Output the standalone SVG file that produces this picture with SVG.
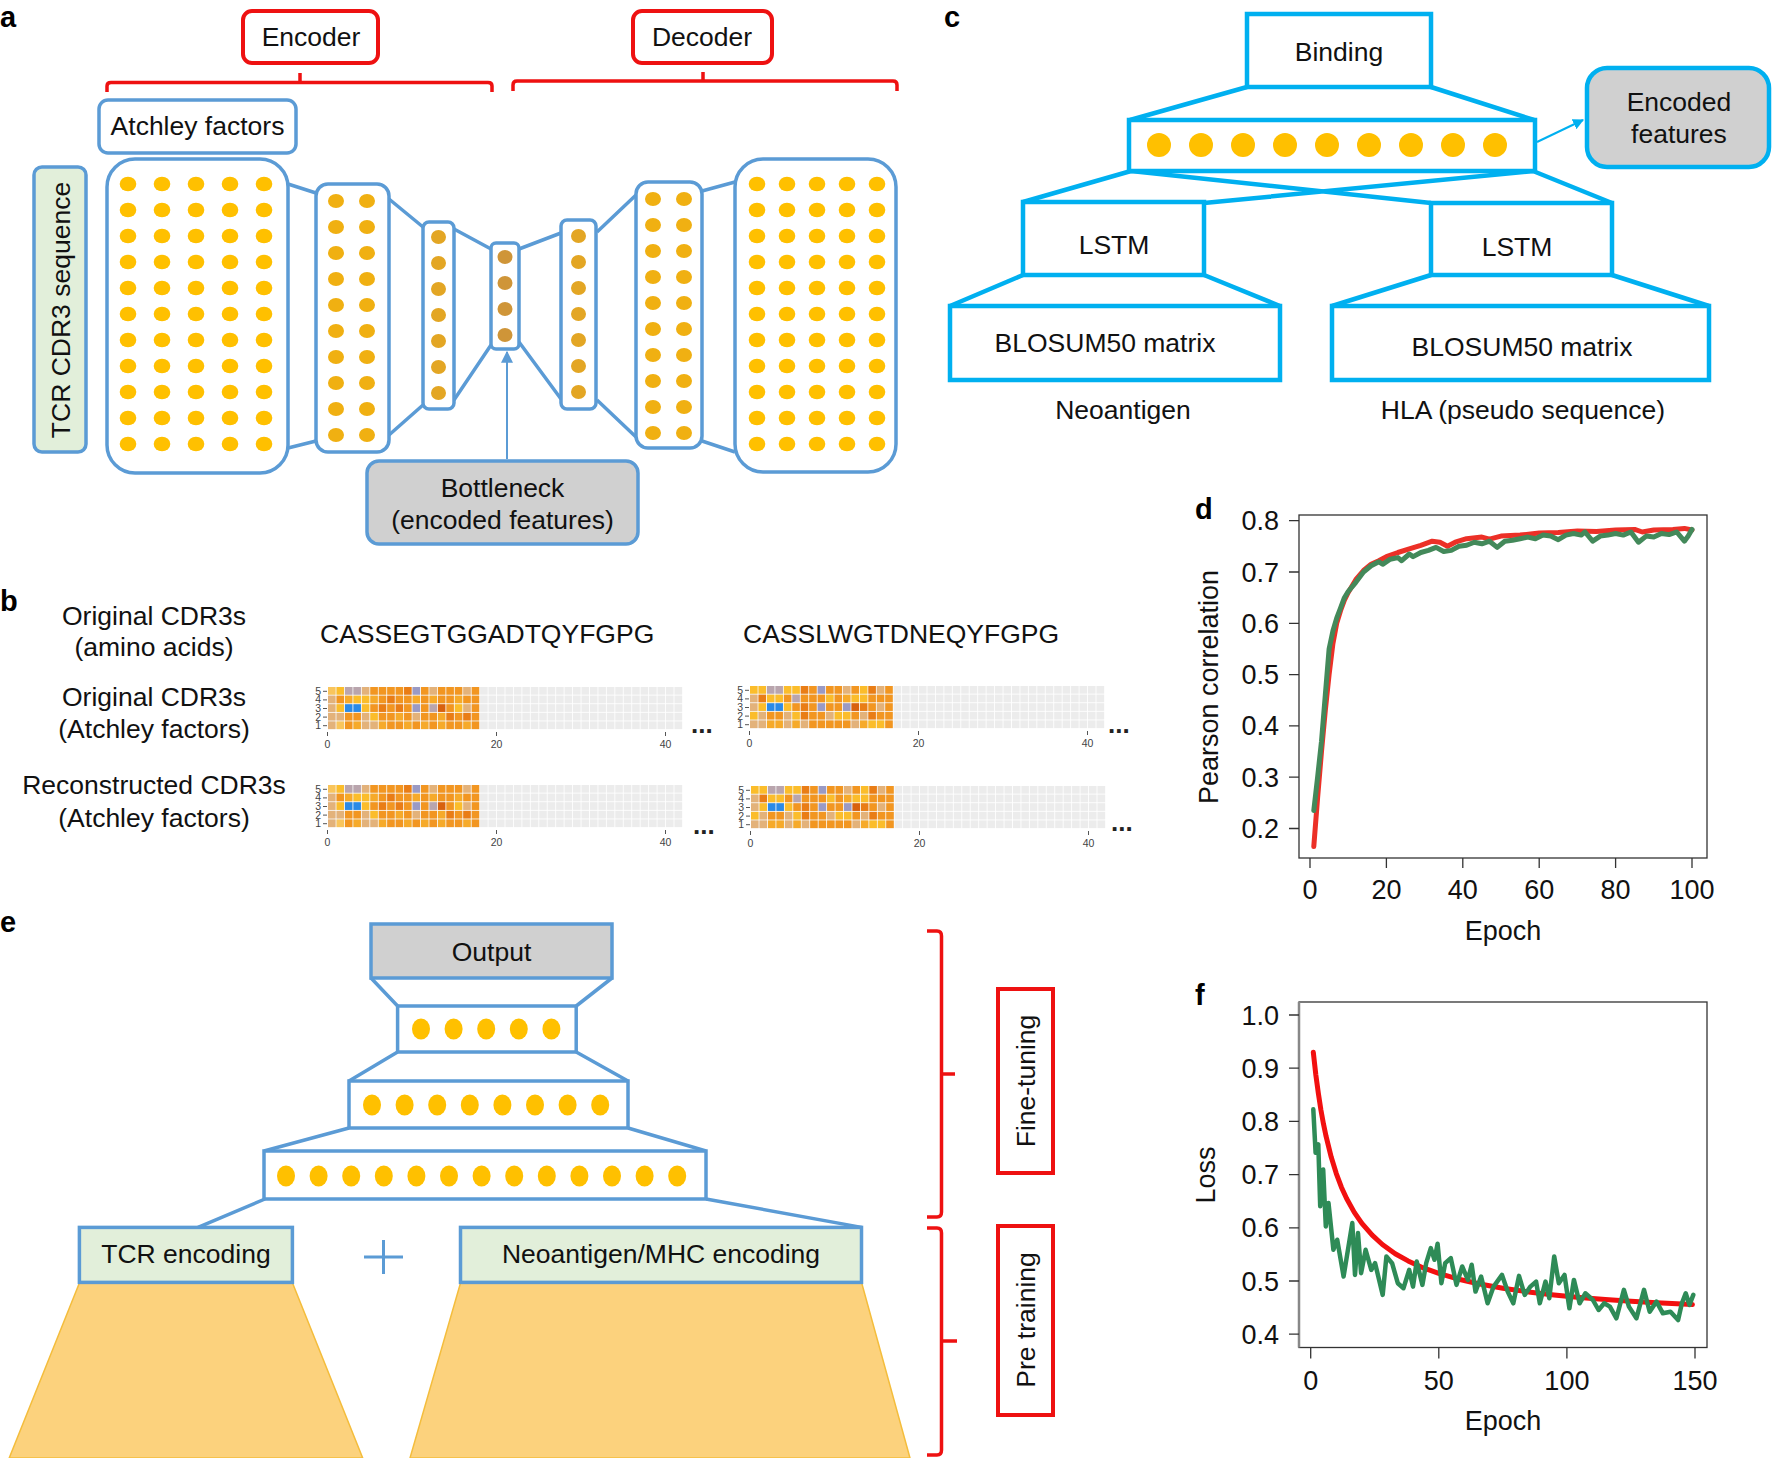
<svg xmlns="http://www.w3.org/2000/svg" xmlns:xlink="http://www.w3.org/1999/xlink" width="1773" height="1458" viewBox="0 0 1773 1458">
<style>
.t{font-family:"Liberation Sans",Arial,Helvetica,sans-serif;font-size:26.5px;fill:#111}
.m{text-anchor:middle}
.e{text-anchor:end}
.pl{font-family:"Liberation Sans",Arial,sans-serif;font-weight:bold;font-size:29px;fill:#000}
.ba{fill:#fff;stroke:#5b9bd5;stroke-width:3.5}
.la{fill:none;stroke:#5b9bd5;stroke-width:3.5}
.bc{fill:#fff;stroke:#00b0f0;stroke-width:4.5}
.lc{fill:none;stroke:#00b0f0;stroke-width:4.5}
.rb{fill:#fff;stroke:#ee1111;stroke-width:4}
.rl{fill:none;stroke:#ee1111;stroke-width:3.5}
.gray{fill:#d0d0d0}
.grn{fill:#e2efda}
.d1{fill:#ffc000}.d2{fill:#f0b012}.d3{fill:#e3a624}.d4{fill:#cf9538}
.hL{fill:#f9c55c}.hY{fill:#fbbd2b}.hK{fill:#f6aa2a}.hO{fill:#f29621}.hD{fill:#e97d16}.hR{fill:#d8610e}.hT{fill:#e3b27a}.hV{fill:#b9a5ad}.hP{fill:#9a9ac4}.hB{fill:#2b8ae6}
.hs{font-family:"Liberation Sans",Arial,sans-serif;font-size:10.5px;fill:#444}
.tk{stroke:#555;stroke-width:1}
.ax{stroke:#333;stroke-width:1.3;fill:none}
.tl{font-family:"Liberation Sans",Arial,sans-serif;font-size:27px;fill:#111}
.dots{font-family:"Liberation Sans",Arial,sans-serif;font-size:26px;font-weight:bold;fill:#222}
</style>
<defs>
<marker id="arA" viewBox="0 0 10 10" refX="9" refY="5" markerWidth="12" markerHeight="12" markerUnits="userSpaceOnUse" orient="auto"><path d="M0,0 L10,5 L0,10 z" fill="#5b9bd5"/></marker>
<marker id="arC" viewBox="0 0 10 10" refX="9" refY="5" markerWidth="11" markerHeight="11" markerUnits="userSpaceOnUse" orient="auto"><path d="M0,0 L10,5 L0,10 z" fill="#00b0f0"/></marker>
<pattern id="cell" width="1" height="1" patternUnits="userSpaceOnUse"><rect width=".9" height=".9" fill="#ececec"/></pattern>
<g id="r1"><ellipse cx="128" cy="0" rx="8.3" ry="7.3"/><ellipse cx="162" cy="0" rx="8.3" ry="7.3"/><ellipse cx="196" cy="0" rx="8.3" ry="7.3"/><ellipse cx="230" cy="0" rx="8.3" ry="7.3"/><ellipse cx="264" cy="0" rx="8.3" ry="7.3"/></g>
<g id="r7"><ellipse cx="757" cy="0" rx="8.3" ry="7.3"/><ellipse cx="787" cy="0" rx="8.3" ry="7.3"/><ellipse cx="817" cy="0" rx="8.3" ry="7.3"/><ellipse cx="847" cy="0" rx="8.3" ry="7.3"/><ellipse cx="877" cy="0" rx="8.3" ry="7.3"/></g>
<g id="r2"><ellipse cx="0" cy="0" rx="8" ry="7"/><ellipse cx="31" cy="0" rx="8" ry="7"/></g>
<ellipse id="s1" cx="0" cy="0" rx="7.5" ry="7"/>
<g id="axes">
<text class="hs e" x="-7" y="7.8">5</text><text class="hs e" x="-7" y="16.4">4</text><text class="hs e" x="-7" y="25">3</text><text class="hs e" x="-7" y="33.6">2</text><text class="hs e" x="-7" y="42.2">1</text>
<path class="tk" d="M-5,4.3H-1M-5,12.9H-1M-5,21.5H-1M-5,30.1H-1M-5,38.7H-1M-0.5,45V49M168.5,45V49M337.5,45V49"/>
<text class="hs m" x="-0.5" y="61">0</text><text class="hs m" x="168.5" y="61">20</text><text class="hs m" x="337.5" y="61">40</text>
</g>
<g id="hmA">
<g transform="scale(8.45,8.6)">
<rect width="42" height="5" fill="url(#cell)"/>
<g transform="translate(0,0)"><rect x="0" width=".9" height=".9" class="hL"/><rect x="1" width=".9" height=".9" class="hY"/><rect x="2" width=".9" height=".9" class="hV"/><rect x="3" width=".9" height=".9" class="hV"/><rect x="4" width=".9" height=".9" class="hT"/><rect x="5" width=".9" height=".9" class="hO"/><rect x="6" width=".9" height=".9" class="hO"/><rect x="7" width=".9" height=".9" class="hO"/><rect x="8" width=".9" height=".9" class="hO"/><rect x="9" width=".9" height=".9" class="hD"/><rect x="10" width=".9" height=".9" class="hP"/><rect x="11" width=".9" height=".9" class="hO"/><rect x="12" width=".9" height=".9" class="hT"/><rect x="13" width=".9" height=".9" class="hO"/><rect x="14" width=".9" height=".9" class="hO"/><rect x="15" width=".9" height=".9" class="hO"/><rect x="16" width=".9" height=".9" class="hT"/><rect x="17" width=".9" height=".9" class="hO"/></g>
<g transform="translate(0,1)"><rect x="0" width=".9" height=".9" class="hT"/><rect x="1" width=".9" height=".9" class="hO"/><rect x="2" width=".9" height=".9" class="hK"/><rect x="3" width=".9" height=".9" class="hY"/><rect x="4" width=".9" height=".9" class="hY"/><rect x="5" width=".9" height=".9" class="hK"/><rect x="6" width=".9" height=".9" class="hO"/><rect x="7" width=".9" height=".9" class="hD"/><rect x="8" width=".9" height=".9" class="hO"/><rect x="9" width=".9" height=".9" class="hO"/><rect x="10" width=".9" height=".9" class="hK"/><rect x="11" width=".9" height=".9" class="hO"/><rect x="12" width=".9" height=".9" class="hK"/><rect x="13" width=".9" height=".9" class="hO"/><rect x="14" width=".9" height=".9" class="hO"/><rect x="15" width=".9" height=".9" class="hK"/><rect x="16" width=".9" height=".9" class="hO"/><rect x="17" width=".9" height=".9" class="hO"/></g>
<g transform="translate(0,2)"><rect x="0" width=".9" height=".9" class="hT"/><rect x="1" width=".9" height=".9" class="hY"/><rect x="2" width=".9" height=".9" class="hB"/><rect x="3" width=".9" height=".9" class="hB"/><rect x="4" width=".9" height=".9" class="hY"/><rect x="5" width=".9" height=".9" class="hO"/><rect x="6" width=".9" height=".9" class="hD"/><rect x="7" width=".9" height=".9" class="hO"/><rect x="8" width=".9" height=".9" class="hD"/><rect x="9" width=".9" height=".9" class="hO"/><rect x="10" width=".9" height=".9" class="hP"/><rect x="11" width=".9" height=".9" class="hO"/><rect x="12" width=".9" height=".9" class="hV"/><rect x="13" width=".9" height=".9" class="hR"/><rect x="14" width=".9" height=".9" class="hO"/><rect x="15" width=".9" height=".9" class="hY"/><rect x="16" width=".9" height=".9" class="hT"/><rect x="17" width=".9" height=".9" class="hO"/></g>
<g transform="translate(0,3)"><rect x="0" width=".9" height=".9" class="hT"/><rect x="1" width=".9" height=".9" class="hT"/><rect x="2" width=".9" height=".9" class="hO"/><rect x="3" width=".9" height=".9" class="hO"/><rect x="4" width=".9" height=".9" class="hT"/><rect x="5" width=".9" height=".9" class="hY"/><rect x="6" width=".9" height=".9" class="hO"/><rect x="7" width=".9" height=".9" class="hO"/><rect x="8" width=".9" height=".9" class="hK"/><rect x="9" width=".9" height=".9" class="hO"/><rect x="10" width=".9" height=".9" class="hT"/><rect x="11" width=".9" height=".9" class="hO"/><rect x="12" width=".9" height=".9" class="hO"/><rect x="13" width=".9" height=".9" class="hK"/><rect x="14" width=".9" height=".9" class="hD"/><rect x="15" width=".9" height=".9" class="hO"/><rect x="16" width=".9" height=".9" class="hD"/><rect x="17" width=".9" height=".9" class="hO"/></g>
<g transform="translate(0,4)"><rect x="0" width=".9" height=".9" class="hT"/><rect x="1" width=".9" height=".9" class="hL"/><rect x="2" width=".9" height=".9" class="hO"/><rect x="3" width=".9" height=".9" class="hK"/><rect x="4" width=".9" height=".9" class="hT"/><rect x="5" width=".9" height=".9" class="hT"/><rect x="6" width=".9" height=".9" class="hK"/><rect x="7" width=".9" height=".9" class="hO"/><rect x="8" width=".9" height=".9" class="hO"/><rect x="9" width=".9" height=".9" class="hK"/><rect x="10" width=".9" height=".9" class="hO"/><rect x="11" width=".9" height=".9" class="hK"/><rect x="12" width=".9" height=".9" class="hO"/><rect x="13" width=".9" height=".9" class="hK"/><rect x="14" width=".9" height=".9" class="hO"/><rect x="15" width=".9" height=".9" class="hO"/><rect x="16" width=".9" height=".9" class="hK"/><rect x="17" width=".9" height=".9" class="hO"/></g>
</g>
<use href="#axes"/>
</g>
<g id="hmB">
<g transform="scale(8.45,8.6)">
<rect width="42" height="5" fill="url(#cell)"/>
<g transform="translate(0,0)"><rect x="0" width=".9" height=".9" class="hY"/><rect x="1" width=".9" height=".9" class="hY"/><rect x="2" width=".9" height=".9" class="hV"/><rect x="3" width=".9" height=".9" class="hV"/><rect x="4" width=".9" height=".9" class="hY"/><rect x="5" width=".9" height=".9" class="hY"/><rect x="6" width=".9" height=".9" class="hD"/><rect x="7" width=".9" height=".9" class="hO"/><rect x="8" width=".9" height=".9" class="hP"/><rect x="9" width=".9" height=".9" class="hO"/><rect x="10" width=".9" height=".9" class="hO"/><rect x="11" width=".9" height=".9" class="hT"/><rect x="12" width=".9" height=".9" class="hO"/><rect x="13" width=".9" height=".9" class="hY"/><rect x="14" width=".9" height=".9" class="hD"/><rect x="15" width=".9" height=".9" class="hT"/><rect x="16" width=".9" height=".9" class="hO"/></g>
<g transform="translate(0,1)"><rect x="0" width=".9" height=".9" class="hT"/><rect x="1" width=".9" height=".9" class="hD"/><rect x="2" width=".9" height=".9" class="hY"/><rect x="3" width=".9" height=".9" class="hY"/><rect x="4" width=".9" height=".9" class="hO"/><rect x="5" width=".9" height=".9" class="hV"/><rect x="6" width=".9" height=".9" class="hO"/><rect x="7" width=".9" height=".9" class="hO"/><rect x="8" width=".9" height=".9" class="hO"/><rect x="9" width=".9" height=".9" class="hY"/><rect x="10" width=".9" height=".9" class="hO"/><rect x="11" width=".9" height=".9" class="hK"/><rect x="12" width=".9" height=".9" class="hY"/><rect x="13" width=".9" height=".9" class="hY"/><rect x="14" width=".9" height=".9" class="hO"/><rect x="15" width=".9" height=".9" class="hO"/><rect x="16" width=".9" height=".9" class="hO"/></g>
<g transform="translate(0,2)"><rect x="0" width=".9" height=".9" class="hT"/><rect x="1" width=".9" height=".9" class="hY"/><rect x="2" width=".9" height=".9" class="hB"/><rect x="3" width=".9" height=".9" class="hB"/><rect x="4" width=".9" height=".9" class="hY"/><rect x="5" width=".9" height=".9" class="hO"/><rect x="6" width=".9" height=".9" class="hD"/><rect x="7" width=".9" height=".9" class="hO"/><rect x="8" width=".9" height=".9" class="hP"/><rect x="9" width=".9" height=".9" class="hO"/><rect x="10" width=".9" height=".9" class="hO"/><rect x="11" width=".9" height=".9" class="hP"/><rect x="12" width=".9" height=".9" class="hR"/><rect x="13" width=".9" height=".9" class="hD"/><rect x="14" width=".9" height=".9" class="hO"/><rect x="15" width=".9" height=".9" class="hT"/><rect x="16" width=".9" height=".9" class="hO"/></g>
<g transform="translate(0,3)"><rect x="0" width=".9" height=".9" class="hY"/><rect x="1" width=".9" height=".9" class="hT"/><rect x="2" width=".9" height=".9" class="hO"/><rect x="3" width=".9" height=".9" class="hO"/><rect x="4" width=".9" height=".9" class="hT"/><rect x="5" width=".9" height=".9" class="hY"/><rect x="6" width=".9" height=".9" class="hD"/><rect x="7" width=".9" height=".9" class="hO"/><rect x="8" width=".9" height=".9" class="hO"/><rect x="9" width=".9" height=".9" class="hT"/><rect x="10" width=".9" height=".9" class="hY"/><rect x="11" width=".9" height=".9" class="hY"/><rect x="12" width=".9" height=".9" class="hO"/><rect x="13" width=".9" height=".9" class="hT"/><rect x="14" width=".9" height=".9" class="hD"/><rect x="15" width=".9" height=".9" class="hO"/><rect x="16" width=".9" height=".9" class="hO"/></g>
<g transform="translate(0,4)"><rect x="0" width=".9" height=".9" class="hT"/><rect x="1" width=".9" height=".9" class="hT"/><rect x="2" width=".9" height=".9" class="hK"/><rect x="3" width=".9" height=".9" class="hK"/><rect x="4" width=".9" height=".9" class="hT"/><rect x="5" width=".9" height=".9" class="hK"/><rect x="6" width=".9" height=".9" class="hT"/><rect x="7" width=".9" height=".9" class="hO"/><rect x="8" width=".9" height=".9" class="hO"/><rect x="9" width=".9" height=".9" class="hO"/><rect x="10" width=".9" height=".9" class="hO"/><rect x="11" width=".9" height=".9" class="hO"/><rect x="12" width=".9" height=".9" class="hT"/><rect x="13" width=".9" height=".9" class="hK"/><rect x="14" width=".9" height=".9" class="hY"/><rect x="15" width=".9" height=".9" class="hY"/><rect x="16" width=".9" height=".9" class="hO"/></g>
</g>
<use href="#axes"/>
</g>
</defs>
<rect width="1773" height="1458" fill="#fff"/>

<!-- Panel labels -->
<g id="panel-labels">
<text class="pl" x="0" y="27">a</text>
<text class="pl" x="0" y="611">b</text>
<text class="pl" x="944" y="27">c</text>
<text class="pl" x="1195" y="519">d</text>
<text class="pl" x="0" y="932">e</text>
<text class="pl" x="1195" y="1005">f</text>
</g>

<!-- ===== Panel a ===== -->
<g id="a-connectors">
<path class="rl" d="M107,92 L107,86 Q107,82.5 111,82.5 L488,82.5 Q492,82.5 492,86 L492,92 M300,82.5 L300,73"/>
<path class="rl" d="M513,91 L513,85 Q513,81 517,81 L893,81 Q897,81 897,85 L897,91 M703,81 L703,72"/>
<path class="la" d="M288,184 L316,193 M288,448 L316,441 M389,199 L423,227 M389,435 L423,405 M454,229 L491,249 M454,400 L491,345 M519,249 L561,233 M519,342 L561,399 M597,232 L636,195 M597,400 L636,437 M702,191 L735,182 M702,441 L735,452"/>
<line x1="507" y1="459" x2="507" y2="352" stroke="#5b9bd5" stroke-width="2" marker-end="url(#arA)"/>
</g>
<g id="a-encoder"><rect class="rb" x="243" y="11" width="135" height="52" rx="9"/><text class="t m" x="311" y="46">Encoder</text></g>
<g id="a-decoder"><rect class="rb" x="633" y="11" width="139" height="52" rx="9"/><text class="t m" x="702" y="46">Decoder</text></g>
<g id="a-atchley"><rect class="ba" x="99" y="100" width="197" height="53" rx="9"/><text class="t m" x="197.5" y="135">Atchley factors</text></g>
<g id="a-tcr"><rect class="la grn" x="34" y="167" width="52" height="285" rx="8"/><text class="t m" transform="translate(70,310) rotate(-90)" x="0" y="0">TCR CDR3 sequence</text></g>
<g id="a-layer1"><rect class="ba" x="107" y="159" width="181" height="314" rx="28"/>
<g class="d1"><use href="#r1" y="184"/><use href="#r1" y="210"/><use href="#r1" y="236"/><use href="#r1" y="262"/><use href="#r1" y="288"/><use href="#r1" y="314"/><use href="#r1" y="340"/><use href="#r1" y="366"/><use href="#r1" y="392"/><use href="#r1" y="418"/><use href="#r1" y="444"/></g></g>
<g id="a-layer2"><rect class="ba" x="316" y="184" width="73" height="268" rx="12"/>
<g class="d2"><use href="#r2" x="336" y="201"/><use href="#r2" x="336" y="227"/><use href="#r2" x="336" y="253"/><use href="#r2" x="336" y="279"/><use href="#r2" x="336" y="305"/><use href="#r2" x="336" y="331"/><use href="#r2" x="336" y="357"/><use href="#r2" x="336" y="383"/><use href="#r2" x="336" y="409"/><use href="#r2" x="336" y="435"/></g></g>
<g id="a-layer3"><rect class="ba" x="423" y="222" width="31" height="187" rx="6"/>
<g class="d3"><use href="#s1" x="438.5" y="237"/><use href="#s1" x="438.5" y="263"/><use href="#s1" x="438.5" y="289"/><use href="#s1" x="438.5" y="315"/><use href="#s1" x="438.5" y="341"/><use href="#s1" x="438.5" y="367"/><use href="#s1" x="438.5" y="393"/></g></g>
<g id="a-bottleneck-layer"><rect class="ba" x="491" y="243" width="28" height="106" rx="5"/>
<g class="d4"><use href="#s1" x="505" y="257"/><use href="#s1" x="505" y="283"/><use href="#s1" x="505" y="309"/><use href="#s1" x="505" y="335"/></g></g>
<g id="a-layer5"><rect class="ba" x="561" y="220" width="35" height="189" rx="6"/>
<g class="d3"><use href="#s1" x="578.5" y="236"/><use href="#s1" x="578.5" y="262"/><use href="#s1" x="578.5" y="288"/><use href="#s1" x="578.5" y="314"/><use href="#s1" x="578.5" y="340"/><use href="#s1" x="578.5" y="366"/><use href="#s1" x="578.5" y="392"/></g></g>
<g id="a-layer6"><rect class="ba" x="636" y="182" width="66" height="266" rx="12"/>
<g class="d2"><use href="#r2" x="653" y="199"/><use href="#r2" x="653" y="225"/><use href="#r2" x="653" y="251"/><use href="#r2" x="653" y="277"/><use href="#r2" x="653" y="303"/><use href="#r2" x="653" y="329"/><use href="#r2" x="653" y="355"/><use href="#r2" x="653" y="381"/><use href="#r2" x="653" y="407"/><use href="#r2" x="653" y="433"/></g></g>
<g id="a-layer7"><rect class="ba" x="735" y="159" width="161" height="313" rx="28"/>
<g class="d1"><use href="#r7" y="184"/><use href="#r7" y="210"/><use href="#r7" y="236"/><use href="#r7" y="262"/><use href="#r7" y="288"/><use href="#r7" y="314"/><use href="#r7" y="340"/><use href="#r7" y="366"/><use href="#r7" y="392"/><use href="#r7" y="418"/><use href="#r7" y="444"/></g></g>
<g id="a-bottleneck-label"><rect class="la gray" x="367" y="461" width="271" height="83" rx="12"/><text class="t m" x="502.5" y="497">Bottleneck</text><text class="t m" x="502.5" y="529">(encoded features)</text></g>

<!-- ===== Panel b ===== -->
<g id="b-labels">
<text class="t m" x="154" y="625">Original CDR3s</text>
<text class="t m" x="154" y="656">(amino acids)</text>
<text class="t m" x="154" y="706">Original CDR3s</text>
<text class="t m" x="154" y="738">(Atchley factors)</text>
<text class="t m" x="154" y="794">Reconstructed CDR3s</text>
<text class="t m" x="154" y="827">(Atchley factors)</text>
<text class="t" x="320" y="643">CASSEGTGGADTQYFGPG</text>
<text class="t" x="743" y="643">CASSLWGTDNEQYFGPG</text>
</g>
<g id="b-heatmaps">
<use href="#hmA" transform="translate(328,687)"/>
<use href="#hmB" transform="translate(750,686)"/>
<use href="#hmA" transform="translate(328,785)"/>
<use href="#hmB" transform="translate(751,786)"/>
<text class="dots" x="691" y="733">...</text>
<text class="dots" x="1108" y="733">...</text>
<text class="dots" x="693" y="834">...</text>
<text class="dots" x="1111" y="831">...</text>
</g>

<!-- ===== Panel c ===== -->
<g id="c-connectors">
<path class="lc" d="M1247,87 L1130,120 M1431,87 L1534,120 M1131,171 L1023,202 M1131,171 L1431,203 M1533,171 L1204,203 M1533,171 L1612,203 M1023,275 L950,306 M1204,275 L1280,306 M1431,275 L1332,306 M1612,275 L1709,306"/>
<line x1="1537" y1="142" x2="1583" y2="120" stroke="#00b0f0" stroke-width="2" marker-end="url(#arC)"/>
</g>
<g id="c-binding"><rect class="bc" x="1247" y="14" width="184" height="73"/><text class="t m" x="1339" y="61">Binding</text></g>
<g id="c-dense"><rect class="bc" x="1129" y="120" width="406" height="51"/>
<g class="d1"><circle cx="1159" cy="145" r="12"/><circle cx="1201" cy="145" r="12"/><circle cx="1243" cy="145" r="12"/><circle cx="1285" cy="145" r="12"/><circle cx="1327" cy="145" r="12"/><circle cx="1369" cy="145" r="12"/><circle cx="1411" cy="145" r="12"/><circle cx="1453" cy="145" r="12"/><circle cx="1495" cy="145" r="12"/></g></g>
<g id="c-encoded"><rect x="1587" y="68" width="182" height="99" rx="20" fill="#d0d0d0" stroke="#00b0f0" stroke-width="4.5"/><text class="t m" x="1679" y="111">Encoded</text><text class="t m" x="1679" y="143">features</text></g>
<g id="c-lstm-left"><rect class="bc" x="1023" y="202" width="181" height="73"/><text class="t m" x="1114" y="254">LSTM</text></g>
<g id="c-lstm-right"><rect class="bc" x="1431" y="203" width="181" height="72"/><text class="t m" x="1517" y="256">LSTM</text></g>
<g id="c-blosum-left"><rect class="bc" x="950" y="306" width="330" height="74"/><text class="t m" x="1105" y="352">BLOSUM50 matrix</text></g>
<g id="c-blosum-right"><rect class="bc" x="1332" y="306" width="377" height="74"/><text class="t m" x="1522" y="356">BLOSUM50 matrix</text></g>
<g id="c-captions"><text class="t m" x="1123" y="419">Neoantigen</text><text class="t m" x="1523" y="419">HLA (pseudo sequence)</text></g>

<!-- ===== Panel d ===== -->
<g id="d-plot">
<rect class="ax" x="1299" y="515" width="408" height="343"/>
<path class="ax" d="M1289,520.7H1299M1289,572H1299M1289,623.3H1299M1289,674.6H1299M1289,725.9H1299M1289,777.2H1299M1289,828.5H1299M1310,858V868M1386.4,858V868M1462.8,858V868M1539.2,858V868M1615.6,858V868M1692,858V868"/>
<g class="tl e"><text x="1279" y="530">0.8</text><text x="1279" y="581.5">0.7</text><text x="1279" y="632.8">0.6</text><text x="1279" y="684">0.5</text><text x="1279" y="735.4">0.4</text><text x="1279" y="786.7">0.3</text><text x="1279" y="838">0.2</text></g>
<g class="tl m"><text x="1310" y="899">0</text><text x="1386.4" y="899">20</text><text x="1462.8" y="899">40</text><text x="1539.2" y="899">60</text><text x="1615.6" y="899">80</text><text x="1692" y="899">100</text></g>
<text class="tl m" x="1503" y="940">Epoch</text>
<text class="tl m" transform="translate(1218,687) rotate(-90)">Pearson correlation</text>
<polyline fill="none" stroke="#ec3027" stroke-width="5" stroke-linejoin="round" stroke-linecap="round" points="1313.8,846.5 1317.6,797.7 1321.5,751.6 1325.3,710.5 1329.1,674.6 1332.9,643.8 1336.7,623.3 1340.6,610.5 1344.4,600.2 1348.2,592.5 1355.8,579.7 1363.5,570.5 1371.1,564.3 1378.8,560.7 1386.4,556.6 1397.9,552.5 1409.3,548.9 1420.8,545.3 1432.2,541.2 1439.9,542.2 1447.5,546.3 1455.2,542.2 1466.6,538.7 1481.9,537.1 1489.5,539.2 1501,536.1 1520.1,535.1 1539.2,533 1558.3,532.5 1577.4,531 1596.5,531.5 1615.6,530 1634.7,529.4 1642.3,532 1653.8,530 1672.9,529.4 1684.4,528.4 1692,530"/>
<polyline fill="none" stroke="#43895a" stroke-width="5" stroke-linejoin="round" stroke-linecap="round" points="1313.8,810.6 1317.6,777.2 1321.5,741.3 1325.3,695.1 1329.1,649 1332.9,631 1336.7,618.2 1340.6,607.9 1344.4,597.7 1348.2,591.5 1355.8,582.3 1363.5,572 1371.1,565.8 1378.8,561.7 1382.6,564.3 1390.2,559.2 1397.9,557.6 1401.7,560.7 1409.3,554 1413.1,556.6 1420.8,552.5 1428.4,550.4 1436,547.4 1443.7,551.5 1451.3,550.4 1459,546.3 1466.6,545.3 1474.3,542.2 1481.9,543.8 1489.5,541.2 1497.2,547.4 1504.8,541.2 1512.5,540.2 1520.1,538.7 1527.7,537.1 1535.4,538.7 1543,535.1 1550.7,536.1 1558.3,539.7 1565.9,535.1 1573.6,533.5 1581.2,535.1 1585,532 1592.7,541.2 1600.3,536.1 1607.9,535.1 1615.6,533.5 1623.2,535.1 1630.9,532 1638.5,542.2 1646.2,536.1 1653.8,537.1 1661.4,533.5 1669.1,534.6 1676.7,532 1684.4,541.2 1688.2,536.1 1692,529.4"/>
</g>

<!-- ===== Panel e ===== -->
<g id="e-pretrain-shapes">
<polygon points="79.4,1283 292.5,1283 362.7,1458 9.2,1458" fill="#fcd27d" stroke="#f4bd3c" stroke-width="1.5"/>
<polygon points="460.5,1283 861.7,1283 910,1458 410,1458" fill="#fcd27d" stroke="#f4bd3c" stroke-width="1.5"/>
</g>
<g id="e-connectors">
<path class="la" stroke-width="3" d="M371,978 L397.6,1006 M612,978 L576.2,1006 M397.6,1052 L349,1081 M576.2,1052 L628,1081 M349,1128 L264,1151 M628,1128 L706,1151 M265,1199 L198,1227.4 M706,1199 L861.7,1227.4"/>
<path class="rl" d="M927,931 L937,931 Q941.5,931 941.5,936 L941.5,1212 Q941.5,1217 937,1217 L927,1217 M941.5,1074 L955,1074"/>
<path class="rl" d="M927,1228 L937,1228 Q941.5,1228 941.5,1233 L941.5,1450 Q941.5,1455 937,1455 L927,1455 M941.5,1341 L957,1341"/>
</g>
<g id="e-output"><rect class="la gray" stroke-width="3" x="371" y="924" width="241" height="54"/><text class="t m" x="491.5" y="961">Output</text></g>
<g id="e-layer1"><rect class="ba" stroke-width="3" x="397.6" y="1006" width="178.6" height="46"/>
<g class="d1"><ellipse cx="421" cy="1029" rx="9" ry="10.5"/><ellipse cx="453.6" cy="1029" rx="9" ry="10.5"/><ellipse cx="486.2" cy="1029" rx="9" ry="10.5"/><ellipse cx="518.8" cy="1029" rx="9" ry="10.5"/><ellipse cx="551.4" cy="1029" rx="9" ry="10.5"/></g></g>
<g id="e-layer2"><rect class="ba" stroke-width="3" x="349" y="1081" width="279" height="47"/>
<g class="d1"><ellipse cx="372" cy="1105" rx="9" ry="10.5"/><ellipse cx="404.6" cy="1105" rx="9" ry="10.5"/><ellipse cx="437.2" cy="1105" rx="9" ry="10.5"/><ellipse cx="469.8" cy="1105" rx="9" ry="10.5"/><ellipse cx="502.4" cy="1105" rx="9" ry="10.5"/><ellipse cx="535" cy="1105" rx="9" ry="10.5"/><ellipse cx="567.6" cy="1105" rx="9" ry="10.5"/><ellipse cx="600.2" cy="1105" rx="9" ry="10.5"/></g></g>
<g id="e-layer3"><rect class="ba" stroke-width="3" x="264" y="1151" width="442" height="48"/>
<g class="d1"><ellipse cx="286" cy="1176" rx="9" ry="10.5"/><ellipse cx="318.6" cy="1176" rx="9" ry="10.5"/><ellipse cx="351.2" cy="1176" rx="9" ry="10.5"/><ellipse cx="383.8" cy="1176" rx="9" ry="10.5"/><ellipse cx="416.4" cy="1176" rx="9" ry="10.5"/><ellipse cx="449" cy="1176" rx="9" ry="10.5"/><ellipse cx="481.6" cy="1176" rx="9" ry="10.5"/><ellipse cx="514.2" cy="1176" rx="9" ry="10.5"/><ellipse cx="546.8" cy="1176" rx="9" ry="10.5"/><ellipse cx="579.4" cy="1176" rx="9" ry="10.5"/><ellipse cx="612" cy="1176" rx="9" ry="10.5"/><ellipse cx="644.6" cy="1176" rx="9" ry="10.5"/><ellipse cx="677.2" cy="1176" rx="9" ry="10.5"/></g></g>
<g id="e-tcr"><rect class="la grn" stroke-width="3" x="79.4" y="1227.4" width="213" height="55"/><text class="t m" x="186" y="1263">TCR encoding</text></g>
<g id="e-plus"><path d="M364,1257 H403 M383.5,1240 V1274" stroke="#5b9bd5" stroke-width="3" fill="none"/></g>
<g id="e-neo"><rect class="la grn" stroke-width="3" x="460.5" y="1227.4" width="401" height="55"/><text class="t m" x="661" y="1263">Neoantigen/MHC encoding</text></g>
<g id="e-finetuning"><rect class="rb" stroke-width="3.5" x="998" y="989" width="55" height="184"/><text class="t m" transform="translate(1035,1081) rotate(-90)">Fine-tuning</text></g>
<g id="e-pretraining"><rect class="rb" stroke-width="3.5" x="998" y="1226" width="55" height="189"/><text class="t m" transform="translate(1035,1320) rotate(-90)">Pre training</text></g>

<!-- ===== Panel f ===== -->
<g id="f-plot">
<rect class="ax" x="1299" y="1002" width="408" height="345.5"/>
<line x1="1299" y1="1002" x2="1299" y2="1347.5" stroke="#888" stroke-width="2.5"/>
<path class="ax" d="M1289,1015H1299M1289,1068.2H1299M1289,1121.4H1299M1289,1174.6H1299M1289,1227.8H1299M1289,1281H1299M1289,1334.2H1299M1310.7,1347.5V1358.5M1438.8,1347.5V1358.5M1566.9,1347.5V1358.5M1695,1347.5V1358.5"/>
<g class="tl e"><text x="1279" y="1024.5">1.0</text><text x="1279" y="1077.7">0.9</text><text x="1279" y="1130.9">0.8</text><text x="1279" y="1184.1">0.7</text><text x="1279" y="1237.3">0.6</text><text x="1279" y="1290.5">0.5</text><text x="1279" y="1343.7">0.4</text></g>
<g class="tl m"><text x="1310.7" y="1390">0</text><text x="1438.8" y="1390">50</text><text x="1566.9" y="1390">100</text><text x="1695" y="1390">150</text></g>
<text class="tl m" x="1503" y="1430">Epoch</text>
<text class="tl m" transform="translate(1215,1175) rotate(-90)">Loss</text>
<polyline fill="none" stroke="#f21010" stroke-width="5" stroke-linejoin="round" stroke-linecap="round" points="1313.3,1052.2 1315.8,1074.6 1318.4,1093.7 1320.9,1109.9 1323.5,1124.1 1326.1,1136.4 1331.2,1157.1 1336.3,1173.6 1341.4,1187.2 1346.6,1198.5 1354.3,1212.4 1361.9,1223.4 1372.2,1235.2 1382.4,1244.5 1395.2,1253.7 1408.1,1260.9 1423.4,1267.9 1438.8,1273.4 1456.7,1278.7 1477.2,1283.5 1502.9,1288.2 1528.5,1291.9 1554.1,1294.9 1579.7,1297.4 1605.3,1299.5 1630.9,1301.3 1656.6,1302.8 1682.2,1304.1 1692.4,1304.6"/>
<polyline fill="none" stroke="#2e8b57" stroke-width="4.5" stroke-linejoin="round" stroke-linecap="round" points="1313.3,1109.3 1315.6,1152.8 1318.3,1144.4 1320.2,1206.3 1323.2,1169.5 1325.8,1226.4 1328.5,1203 1333.4,1249.8 1337.2,1239.7 1343.6,1276.5 1352.3,1223 1355,1274.9 1358,1233.1 1361.1,1273.2 1365.6,1249.8 1371.3,1269.9 1375.1,1263.2 1382.7,1294.9 1386.4,1256.5 1392.1,1263.2 1397.8,1283.2 1403.5,1288.2 1409.2,1269.9 1413,1286.6 1416.7,1261.5 1422.4,1284.9 1426.2,1263.2 1430.8,1248.1 1434.5,1259.8 1437.6,1243.8 1441.4,1283.2 1445.2,1263.2 1450.8,1258.1 1456.5,1284.9 1462.2,1266.5 1467.9,1279.9 1471.7,1264.8 1475.5,1291.6 1481.1,1276.5 1487.6,1303.3 1493.6,1286.6 1502,1274.9 1507.7,1291.6 1513.3,1303.3 1519,1275.9 1524.7,1294.9 1530.4,1286.6 1536.1,1281.6 1539.8,1303.3 1545.5,1281.6 1549.3,1298.3 1554.2,1256.5 1558.8,1283.2 1564.5,1274.9 1569.4,1308.3 1573.9,1279.9 1579.6,1303.3 1585.3,1293.3 1592.9,1300 1598.6,1310 1604.2,1303.3 1609.9,1306.6 1616.4,1318.3 1623.9,1289.9 1628.9,1306.6 1636.4,1318.3 1644,1289.9 1649.7,1311.7 1656.5,1301.6 1662.9,1313.3 1670.5,1311.7 1678.1,1320 1681.9,1303.3 1685.7,1293.3 1689.5,1305 1693.3,1294.9"/>
</g>
</svg>
